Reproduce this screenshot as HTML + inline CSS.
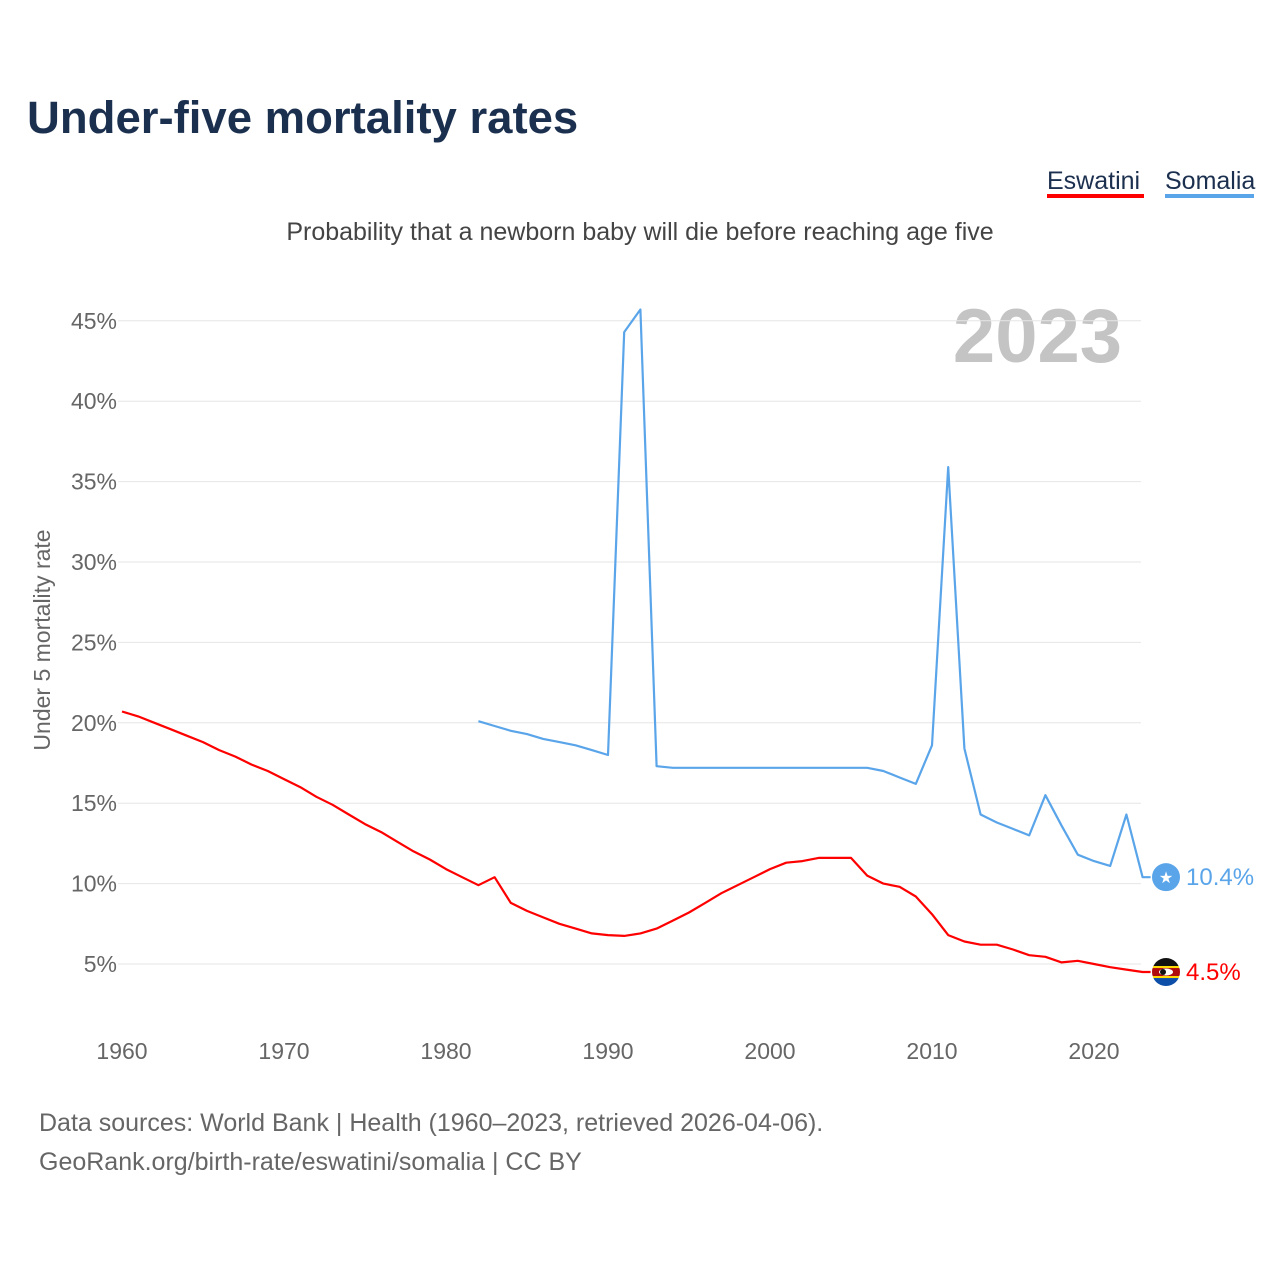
<!DOCTYPE html>
<html><head><meta charset="utf-8">
<style>
body{margin:0;background:#fff;width:1280px;height:1280px;overflow:hidden;font-family:"Liberation Sans",sans-serif;}
svg text{font-family:"Liberation Sans",sans-serif;}
</style></head>
<body>
<svg id="chart" width="1280" height="1280" xmlns="http://www.w3.org/2000/svg">
<defs><clipPath id="flagclip"><circle cx="1166" cy="970" r="14"/></clipPath></defs>
<text x="27" y="133" font-size="45.5" font-weight="bold" fill="#1b2f4f">Under-five mortality rates</text>
<g>
<text x="1047" y="189" font-size="25" fill="#1b2f4f">Eswatini</text>
<rect x="1047" y="194" width="97" height="4" fill="#ff0000"/>
</g>
<g>
<text x="1165" y="189" font-size="25" fill="#1b2f4f">Somalia</text>
<rect x="1165" y="194" width="89" height="4" fill="#5aa5ea"/>
</g>
<text x="640" y="240" font-size="25" fill="#444" text-anchor="middle">Probability that a newborn baby will die before reaching age five</text>
<text x="1122" y="362" font-size="76" font-weight="bold" fill="#c4c4c4" text-anchor="end">2023</text>
<text transform="translate(50,640) rotate(-90)" font-size="23" fill="#666" text-anchor="middle">Under 5 mortality rate</text>
<g id="grid"></g><g id="yticks"></g><g id="xticks"></g><g id="series"></g>
<text x="39" y="1131" font-size="25" fill="#666">Data sources: World Bank | Health (1960–2023, retrieved 2026-04-06).</text>
<text x="39" y="1170" font-size="25" fill="#666">GeoRank.org/birth-rate/eswatini/somalia | CC BY</text>
</svg>
<script>
const yTicks=[5,10,15,20,25,30,35,40,45];
const xTicks=[1960,1970,1980,1990,2000,2010,2020];
const eswatiniYears=[];for(let y=1960;y<=2023;y++)eswatiniYears.push(y);
const eswatiniValues=[20.7,20.4,20.0,19.6,19.2,18.8,18.3,17.9,17.4,17.0,16.5,16.0,15.4,14.9,14.3,13.7,13.2,12.6,12.0,11.5,10.9,10.4,9.9,10.4,8.8,8.3,7.9,7.5,7.2,6.9,6.8,6.75,6.9,7.2,7.7,8.2,8.8,9.4,9.9,10.4,10.9,11.3,11.4,11.6,11.6,11.6,10.5,10.0,9.8,9.2,8.1,6.8,6.4,6.2,6.2,5.9,5.55,5.45,5.1,5.2,5.0,4.8,4.65,4.5];
const somaliaYears=[];for(let y=1982;y<=2023;y++)somaliaYears.push(y);
const somaliaValues=[20.1,19.8,19.5,19.3,19.0,18.8,18.6,18.3,18.0,44.3,45.7,17.3,17.2,17.2,17.2,17.2,17.2,17.2,17.2,17.2,17.2,17.2,17.2,17.2,17.2,17.0,16.6,16.2,18.6,35.9,18.4,14.3,13.8,13.4,13.0,15.5,13.6,11.8,11.4,11.1,14.3,10.4];
const NS='http://www.w3.org/2000/svg';
const xS=yr=>122+(yr-1960)*16.2;
const yS=v=>1044.4-v*16.08;
function mk(tag,attrs,parent){const e=document.createElementNS(NS,tag);for(const k in attrs)e.setAttribute(k,attrs[k]);parent.appendChild(e);return e;}
const grid=document.getElementById('grid'),yt=document.getElementById('yticks'),xt=document.getElementById('xticks'),ser=document.getElementById('series');
yTicks.forEach(v=>{
 const l=mk('line',{x1:118,x2:1141,y1:yS(v),y2:yS(v),stroke:'#e6e6e6','stroke-width':1},grid);
 
 
 const t=mk('text',{x:117,y:yS(v)+8,'font-size':23,fill:'#666','text-anchor':'end'},yt);
 t.textContent=v+'%';
 
 
});
xTicks.forEach(v=>{
 const t=mk('text',{x:xS(v),y:1059,'font-size':23,fill:'#666','text-anchor':'middle'},xt);
 t.textContent=v;
 
 
});
function line(years,vals,color,name,endLabel,flag){
 let d=years.map((y,i)=>(i?'L':'M')+xS(y).toFixed(1)+','+yS(vals[i]).toFixed(1)).join(' ');
 const last=vals[vals.length-1];
 d+=' L'+(xS(2023)+8)+','+yS(last).toFixed(1);
 const p=mk('path',{d:d,fill:'none',stroke:color,'stroke-width':2.2,'stroke-linejoin':'round'},ser);
 
 
 if(flag){
  const c=mk('circle',{cx:1166,cy:yS(last),r:14,fill:color},ser);
  
  
 }
 const t=mk('text',{x:1186,y:yS(last)+8,'font-size':24,fill:color},ser);
 t.textContent=endLabel;
 
 
}
line(somaliaYears,somaliaValues,'#5aa5ea','somalia','10.4%',true);
const sc=mk('text',{x:1166,y:yS(10.4)+6,'font-size':16,fill:'#fff','text-anchor':'middle'},ser);sc.textContent='★';
line(eswatiniYears,eswatiniValues,'#ff0000','eswatini','4.5%',false);
const ey=yS(4.5);
document.querySelector('#flagclip circle').setAttribute('cy',ey);
const fg=mk('g',{'clip-path':'url(#flagclip)'},ser);


mk('rect',{x:1150,y:ey-16,width:32,height:10,fill:'#111'},fg);
mk('rect',{x:1150,y:ey-6,width:32,height:2,fill:'#ffd900'},fg);
mk('rect',{x:1150,y:ey-4,width:32,height:8,fill:'#b10c0c'},fg);
mk('rect',{x:1150,y:ey+4,width:32,height:2,fill:'#ffd900'},fg);
mk('rect',{x:1150,y:ey+6,width:32,height:10,fill:'#0d4ea8'},fg);
mk('ellipse',{cx:1166,cy:ey,rx:7,ry:3.5,fill:'#fff'},fg);
mk('ellipse',{cx:1163,cy:ey,rx:3,ry:3,fill:'#111'},fg);
</script>
</body></html>
